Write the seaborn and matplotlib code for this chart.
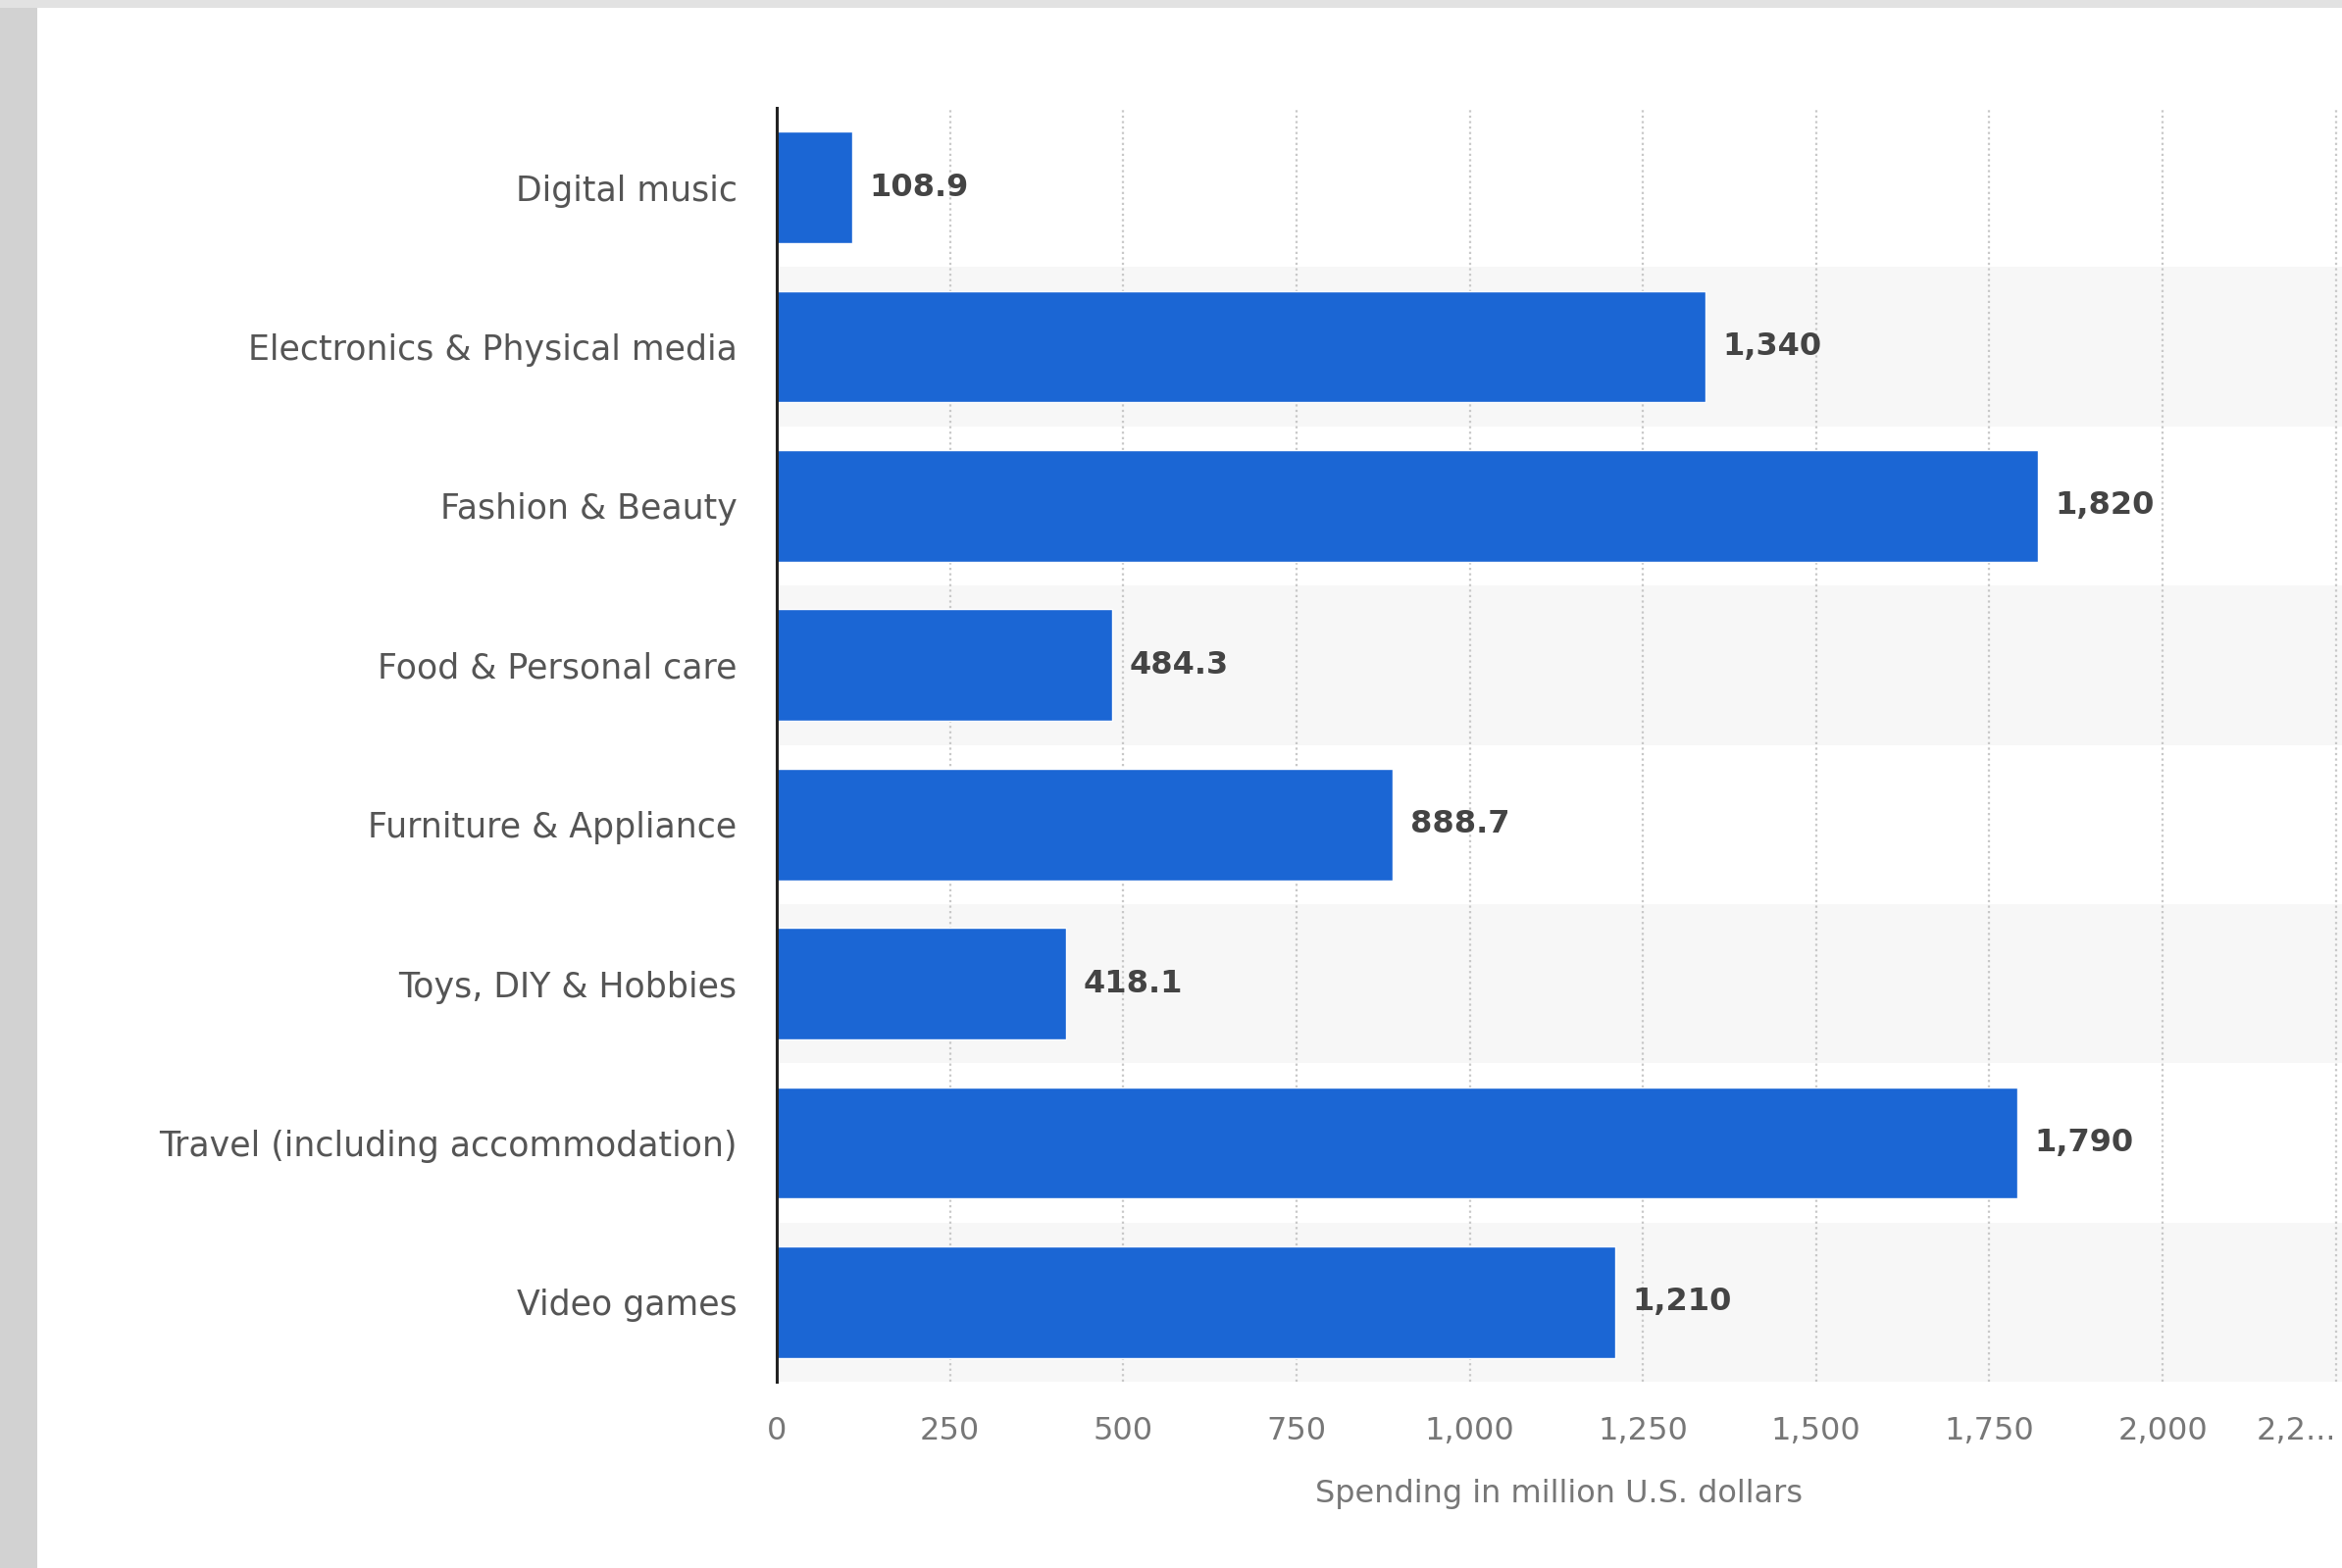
import matplotlib
matplotlib.use("Agg")
import matplotlib.pyplot as plt
import seaborn as sns
import pandas as pd
from matplotlib.patches import Rectangle

categories = [
    "Digital music",
    "Electronics & Physical media",
    "Fashion & Beauty",
    "Food & Personal care",
    "Furniture & Appliance",
    "Toys, DIY & Hobbies",
    "Travel (including accommodation)",
    "Video games",
]
values = [108.9, 1340, 1820, 484.3, 888.7, 418.1, 1790, 1210]
value_labels = ["108.9", "1,340", "1,820", "484.3", "888.7", "418.1", "1,790", "1,210"]
x_ticks = [0, 250, 500, 750, 1000, 1250, 1500, 1750, 2000, 2250]
x_tick_labels = ["0", "250", "500", "750", "1,000", "1,250", "1,500", "1,750", "2,000", "2,2..."]

df = pd.DataFrame({"category": categories, "value": values})

sns.set_theme(style="white")
plt.rcParams["font.family"] = ["DejaVu Sans"]

fig = plt.figure(figsize=(23.88, 15.99), dpi=100)
fig.patch.set_facecolor("white")
# screenshot border (gray strip on left and top)
fig.patches.append(Rectangle((0, 0), 38 / 2388, 1, transform=fig.transFigure,
                             facecolor="#d2d2d2", edgecolor="none", zorder=0))
fig.patches.append(Rectangle((0, 1 - 8 / 1599), 1, 8 / 1599, transform=fig.transFigure,
                             facecolor="#e2e2e2", edgecolor="none", zorder=0))

left = 792 / 2388
bottom = 1 - 1409 / 1599
top = 1 - 110 / 1599
ax = fig.add_axes([left, bottom, 1 - left, top - bottom])
ax.set_facecolor("white")

# alternating row stripes
for i in range(len(categories)):
    if i % 2 == 1:
        ax.axhspan(i - 0.5, i + 0.5, color="#f7f7f7", zorder=0, lw=0)

sns.barplot(data=df, x="value", y="category", orient="h", color="#1b66d4",
            width=0.70, saturation=1, ax=ax, zorder=3)

for i, (v, lab) in enumerate(zip(values, value_labels)):
    ax.text(v + 25, i, lab, va="center", ha="left", fontsize=23,
            fontweight="bold", color="#444444", zorder=4)

ax.set_xlim(0, 2259)
ax.set_ylim(7.5, -0.5)
ax.set_xticks(x_ticks)
ax.set_xticklabels(x_tick_labels, fontsize=23, color="#777777")
ax.get_xticklabels()[-1].set_horizontalalignment("right")
ax.tick_params(axis="x", length=0, pad=25)
ax.tick_params(axis="y", length=0, pad=29, labelsize=25, labelcolor="#555555")
ax.set_ylabel("")
ax.set_xlabel("Spending in million U.S. dollars", fontsize=23, color="#777777", labelpad=24)

ax.grid(axis="x", linestyle=(0, (1, 1.5)), color="#c8c8c8", linewidth=1.6, zorder=1)
ax.set_axisbelow(True)
for s in ["top", "right", "bottom"]:
    ax.spines[s].set_visible(False)
ax.spines["left"].set_color("#222222")
ax.spines["left"].set_linewidth(2.2)
ax.spines["left"].set_zorder(5)

fig.savefig("out.png", dpi=100, facecolor=fig.get_facecolor())
